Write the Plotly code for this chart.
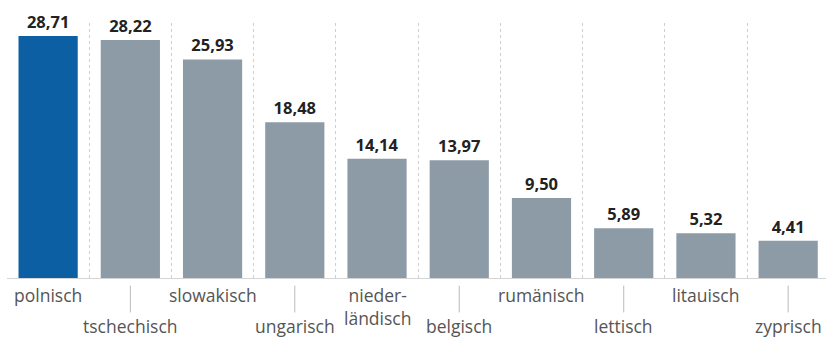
import plotly.graph_objects as go

categories = ["polnisch", "tschechisch", "slowakisch", "ungarisch", "nieder-<br>ländisch",
              "belgisch", "rumänisch", "lettisch", "litauisch", "zyprisch"]
values = [28.71, 28.22, 25.93, 18.48, 14.14, 13.97, 9.50, 5.89, 5.32, 4.41]
highlight = "polnisch"

BLUE = "#0b5fa2"
GRAY = "#8d9ba7"

xs = list(range(len(categories)))
colors = [BLUE if c == highlight else GRAY for c in categories]

fig = go.Figure()
fig.add_trace(go.Bar(
    x=xs, y=values, marker_color=colors, marker_line_width=0, width=0.72,
    texttemplate="%{y:.2f}", textposition="outside", cliponaxis=False,
    textfont=dict(family="Open Sans", size=16.5, color="#222222", weight="bold"),
    hoverinfo="skip",
))

annotations = []
shapes = []
for i, c in enumerate(categories):
    lower = (i % 2 == 1)
    if "<br>" in c:
        yshift = -3
    else:
        yshift = -34 if lower else -3
    annotations.append(dict(
        x=i, y=0, xref="x", yref="paper", yanchor="top", xanchor="center",
        text=c, showarrow=False, yshift=yshift,
        font=dict(family="Open Sans", size=17.5, color="#555555"),
    ))
    if lower and "<br>" not in c:
        shapes.append(dict(type="line", xref="x", yref="paper", x0=i, x1=i,
                           y0=-0.03, y1=-0.135, line=dict(color="#bbbbbb", width=1)))

fig.update_layout(
    width=826, height=338,
    margin=dict(l=7, r=0, t=23, b=60),
    paper_bgcolor="white", plot_bgcolor="white",
    separators=",.",
    showlegend=False,
    annotations=annotations,
    shapes=shapes,
    xaxis=dict(range=[-0.5, 9.46], tick0=-0.5, dtick=1, tickmode="linear",
               showgrid=True, gridcolor="#cfcfcf", griddash="dot", gridwidth=1,
               showticklabels=False, zeroline=False,
               showline=True, linecolor="#d4d4d4", linewidth=1),
    yaxis=dict(range=[0, 30.25], showgrid=False, zeroline=False,
               showticklabels=False, showline=False),
)

fig.write_html("out.html")
